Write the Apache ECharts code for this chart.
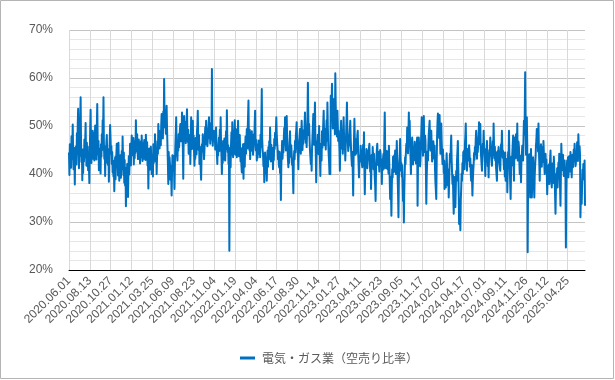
<!DOCTYPE html>
<html>
<head>
<meta charset="utf-8">
<script src="https://cdn.jsdelivr.net/npm/echarts@6/dist/echarts.min.js"></script>
<style>
html,body{margin:0;padding:0;background:#fff;}
#c{width:615px;height:380px;}
</style>
</head>
<body>
<div id="c"></div>
<script>
var seriesName = '電気・ガス業（空売り比率）';
var tickLabels = ['2020.06.01','2020.08.13','2020.10.27','2021.01.12','2021.03.25','2021.06.09','2021.08.23','2021.11.04','2022.01.19','2022.04.04','2022.06.17','2022.08.30','2022.11.14','2023.01.27','2023.04.11','2023.06.23','2023.09.05','2023.11.17','2024.02.02','2024.04.17','2024.07.01','2024.09.11','2024.11.26','2025.02.12','2025.04.25'];
var yTicks = [20, 30, 40, 50, 60, 70];

var ratio2020a = [
44.5,39.8,46.2,42.1,45.0,41.3,47.8,43.2,46.0,50.3,44.1,41.0,45.5,42.8,37.8,44.6,43.1,45.8,42.0,48.5,44.2,50.1,53.6,45.3,41.2,47.9,43.8,51.5,56.0,46.4,42.5,44.8,38.7,45.1,40.2,44.9,42.6,47.2,43.5,46.8,50.6,44.3,41.7,46.5,42.9,45.7,40.8,44.2,41.5,38.1,
44.0,49.5,53.4,46.1,42.3,47.7,44.5,49.0,43.2,48.6,45.9,42.8,47.5,50.1,44.7,46.3,43.0,49.8,54.6,47.2,44.1,46.9,40.8,45.3,42.7,44.4,40.1,46.2,43.6,48.3,45.0,51.2,47.8,56.0,46.5,43.2,45.8,39.6,44.1,42.3,46.7,48.1,43.5,45.2,41.9,44.6,38.4,43.8,46.9,50.2,
47.5,44.2,45.8,42.1,44.6,40.3,42.8,39.5,41.7,36.4,40.2,43.5,38.9,42.6,44.1,46.3,41.8,43.2,39.7,46.5,42.3,38.6,41.4,40.7,43.9,39.2,42.5,44.8,41.0,47.8,43.6,39.8,44.5,38.2,42.9,37.6,41.3,33.3,39.5,36.8,42.1,38.4,35.2,40.6,43.7,39.9,42.4,46.3,44.0,41.8,
45.3,48.0,43.9,46.2,44.1,47.5,42.0,45.8,43.3,46.9,44.4,51.2,47.0,44.8,48.3,45.6,43.1,45.0,47.2,43.8,46.1,42.2,44.9,46.8,43.5,48.0,45.1,42.7,46.4,45.6,43.2,47.1,44.3,46.0,42.9,48.2,45.4,43.0,46.6,41.8,44.2,37.0,42.5,45.3,40.9,44.2,42.0,45.7,43.4,40.0,
41.6,44.0,39.5,46.2,42.3,44.8,43.1,48.3,45.0,42.6,44.5,40.0,43.7,46.8,44.2,50.4,47.1,49.0,45.3,45.6,48.2,46.0,50.3,52.5,48.6,51.2,47.4,53.0,50.1,59.8,51.6,49.7,52.8,48.4,51.9,54.2,49.5,45.8,42.4,37.9,44.6,40.2,43.5,42.1,38.8,41.7,39.4,35.5,40.3,43.9
];
var ratio2021 = [
41.2,43.8,44.2,40.5,36.9,42.7,45.9,48.4,51.8,46.2,44.0,42.8,46.5,44.9,48.3,45.6,47.9,49.3,50.4,46.8,48.7,47.2,52.8,48.1,45.5,39.0,47.3,52.1,49.6,47.0,50.8,46.4,48.7,51.0,53.5,48.9,46.7,49.2,44.2,47.6,45.3,48.1,42.1,46.0,51.8,47.7,45.2,49.4,51.1,46.3,
48.0,44.5,41.7,45.6,43.2,47.5,46.9,44.1,48.8,50.2,53.2,47.4,45.0,48.1,42.1,45.7,43.6,40.9,38.8,43.5,46.2,44.7,48.3,45.8,47.0,43.1,44.9,47.6,49.8,46.2,51.1,47.3,49.5,45.8,46.9,48.7,50.4,51.8,47.5,49.1,46.3,48.9,50.6,47.2,61.9,49.0,45.9,48.4,47.7,49.0,
46.8,48.2,45.1,47.3,49.7,46.0,44.3,42.1,45.8,43.9,46.4,47.6,44.8,49.2,47.0,51.8,46.5,43.7,40.0,44.6,42.3,46.9,45.6,43.0,47.4,44.1,42.8,46.3,48.9,45.2,53.3,47.8,44.6,46.0,42.1,44.9,24.0,42.7,45.5,41.4,46.2,48.7,44.0,50.8,46.6,43.5,47.1,44.2,48.3,51.2,
47.2,44.0,49.3,45.1,43.5,46.8,48.2,51.1,46.0,43.7,45.9,48.1,44.9,42.6,45.4,41.8,40.3,44.7,42.2,46.2,39.0,43.8,46.3,41.5,45.6,47.8,44.2,46.9,49.4,45.3,48.6,52.0,55.3,47.1,45.0,49.2,43.1,46.7,44.8,47.5,48.9,45.5,46.8,44.0,45.2,48.3,47.0,50.6,53.2,46.1,
44.9,47.1,42.8,45.6,43.4,46.2,44.2,47.0,45.1,46.5,43.5,48.2,45.7,50.9,57.7,47.3,45.0,44.2,41.6,43.9,38.3,41.8,44.5,42.4,40.1,43.2,38.6,42.7,44.9,41.5,45.6,43.0,46.8,44.3,49.7,45.9,42.6,46.1,44.2,43.0,45.4,41.0,44.7,42.9,47.3,45.2,48.6,46.0,49.1,51.8
];
var ratio2022 = [
48.4,46.5,45.2,43.1,44.8,42.0,41.4,44.6,40.2,42.9,34.6,41.5,44.1,46.9,43.2,45.8,44.5,47.3,49.6,46.2,51.8,47.5,44.9,49.0,52.1,47.8,45.6,43.1,41.4,44.7,42.3,46.5,48.9,45.1,43.6,46.0,44.2,41.9,43.3,39.8,36.0,42.4,44.8,43.1,46.9,44.5,47.9,49.2,50.8,47.0,
45.3,43.8,41.0,44.6,46.9,48.1,49.4,46.7,44.2,47.5,51.1,48.3,45.0,47.9,46.3,49.1,47.4,50.2,52.8,48.0,46.5,49.7,45.6,48.8,51.5,59.0,52.3,48.1,50.4,47.2,45.0,43.6,42.1,44.8,40.7,45.3,47.6,49.9,52.5,48.4,46.1,50.3,54.9,47.8,44.2,38.3,43.9,46.8,45.6,48.2,
46.5,44.1,50.0,45.8,43.2,39.6,44.7,46.3,42.8,48.9,45.5,47.9,50.6,53.2,48.4,46.0,47.3,49.4,45.1,48.6,51.2,47.0,54.9,49.8,46.4,44.2,42.5,40.0,45.3,40.0,56.3,51.8,54.0,58.8,53.1,49.5,52.7,50.0,55.6,52.2,48.3,61.0,54.4,49.7,51.5,47.8,53.2,50.1,46.9,49.0,
47.3,45.0,40.7,46.2,48.5,51.1,47.6,45.3,49.0,44.2,47.1,51.8,48.0,45.2,46.9,42.8,45.7,48.3,51.2,54.9,49.6,47.2,44.8,45.6,48.1,46.0,49.3,51.1,47.5,44.9,43.2,41.7,44.6,40.3,35.5,42.9,47.4,51.5,46.8,44.0,45.9,44.2,47.3,45.8,48.1,49.0,44.6,42.1,39.3,43.7,
44.1,42.6,45.9,43.3,44.7,42.0,41.4,44.5,46.1,43.0,48.7,41.5,35.8,40.9,43.7,42.4,45.2,43.6,41.2,42.8,44.9,43.1,45.4,46.3,42.7,40.5,43.8,36.9,41.6,44.0,42.3,45.6,43.4,41.0,44.2,41.4,39.2,37.5,34.4,40.8,43.5,45.1,46.3,43.0,41.9,44.6,42.1,40.5,43.7,45.0
];
var ratio2023 = [
44.2,41.6,43.0,37.9,42.5,40.8,43.4,44.2,41.1,47.5,52.8,45.6,43.0,41.2,43.5,44.8,42.2,41.0,43.6,40.1,45.9,42.0,38.7,34.8,39.5,36.2,31.3,37.4,41.0,39.3,43.6,42.8,40.4,43.9,41.7,44.9,42.5,40.0,43.1,46.9,42.6,39.4,36.1,31.0,38.8,42.4,44.0,47.3,43.5,40.7,
42.3,39.5,41.8,37.6,34.4,38.0,29.9,36.4,40.2,43.5,42.1,44.7,46.3,45.0,49.7,46.1,44.3,48.5,52.8,47.6,51.1,46.2,43.5,40.0,44.8,46.1,47.6,44.3,42.0,45.4,42.8,44.9,46.7,43.5,45.6,42.2,44.8,46.3,47.6,33.4,41.5,44.9,47.6,45.0,43.2,41.6,42.8,46.0,48.7,51.8,
45.2,47.6,43.8,49.4,52.1,47.3,44.6,48.0,46.9,41.2,33.8,39.6,42.5,44.7,42.8,46.1,48.4,49.7,51.1,46.3,44.9,47.2,49.0,45.8,42.6,44.4,43.5,46.8,45.6,43.2,45.9,41.0,38.3,36.7,34.8,42.4,47.9,50.8,52.6,48.3,50.9,47.5,52.3,48.0,44.2,47.6,50.5,46.8,44.5,42.1,
45.1,43.0,40.2,42.8,36.9,40.5,38.7,37.2,42.0,44.3,41.4,39.0,37.6,40.9,35.1,38.4,41.7,44.2,42.5,45.6,48.0,43.1,40.4,37.9,39.8,35.2,31.7,36.5,39.4,35.8,33.1,37.0,40.6,38.6,42.9,44.8,46.9,41.3,36.2,29.6,33.5,31.2,28.3,34.6,36.9,40.1,38.6,42.3,40.0,44.6,
42.7,44.9,41.0,46.3,47.8,50.5,45.4,43.1,40.7,43.9,45.2,42.8,44.1,46.0,44.6,41.5,43.3,40.2,38.6,41.9,39.4,35.5,38.7,40.6,42.1,44.4,43.0,45.6,44.1,47.2,49.0,45.7,43.2,46.5,44.6,47.1,48.4,50.8,46.2,48.0,50.4,45.3,43.6,42.1,40.7,44.5,46.3,45.0,49.0,46.1
];
var ratio2024 = [
44.0,42.3,39.6,43.5,45.2,44.1,46.9,43.8,41.6,42.9,39.3,43.4,45.0,44.2,47.6,45.1,43.9,42.6,41.7,44.5,46.8,44.0,50.5,46.1,43.3,45.7,42.8,44.6,41.2,40.0,38.6,42.1,44.8,43.5,45.6,44.0,42.3,41.5,40.7,43.9,46.2,44.7,49.0,45.3,43.4,44.8,42.8,41.0,44.2,39.5,
44.5,38.6,42.0,40.3,43.1,36.2,40.7,44.6,42.2,49.0,44.3,41.1,38.0,34.8,40.5,43.6,41.8,44.2,46.1,48.0,43.4,38.6,44.9,47.6,45.0,43.3,48.3,46.2,44.5,50.5,42.8,44.9,46.7,45.6,42.4,40.0,43.8,41.2,38.3,42.6,44.0,45.9,43.7,42.8,47.5,51.1,48.2,52.6,61.2,50.3,
44.0,47.5,51.8,46.3,23.7,38.2,40.0,42.6,44.1,38.6,35.1,41.3,45.2,39.6,35.1,37.8,40.9,43.5,41.2,38.0,35.1,39.7,41.8,43.5,45.9,47.1,49.4,46.0,48.2,44.7,50.5,45.3,42.1,38.6,43.0,44.8,46.2,43.6,41.5,45.6,44.0,42.5,46.9,44.3,42.0,40.0,42.8,44.2,41.6,43.0
];
var ratio2025 = [
40.3,35.8,38.9,41.7,39.2,42.0,37.9,40.6,43.1,44.9,41.0,38.4,37.2,39.5,42.2,40.0,38.1,43.6,41.4,39.0,35.5,31.7,36.8,40.0,38.7,41.2,37.2,39.8,42.4,40.6,44.2,41.5,37.0,33.4,39.9,46.3,43.0,40.8,42.1,44.0,41.3,39.6,41.9,42.8,40.4,38.9,24.7,36.2,40.5,42.8,
41.8,43.5,39.3,41.0,43.7,42.1,40.5,44.6,42.3,41.2,39.3,42.8,44.0,41.4,43.3,45.1,42.7,46.3,43.8,41.6,42.1,44.5,43.2,46.6,44.9,42.7,48.3,45.6,43.4,45.8,44.0,31.0,35.2,38.4,33.8,37.6,40.9,39.5,42.1,40.7,38.8,42.8,33.4
];

var values = [].concat(ratio2020a, ratio2021, ratio2022, ratio2023, ratio2024, ratio2025);
var categories = values.map(function (v, i) { return String(i); });
var LABEL_STEP = 50;

var chart = echarts.init(document.getElementById('c'), null, {renderer: 'canvas'});
var txt = '#595959';
chart.setOption({
  animation: false,
  backgroundColor: '#ffffff',
  textStyle: {fontFamily: 'Liberation Sans, Arial, sans-serif'},
  graphic: [{
    type: 'rect', silent: true, z: -1,
    shape: {x: 0.5, y: 0.5, width: 613, height: 378},
    style: {fill: 'none', stroke: '#b4b4b4', lineWidth: 1}
  }],
  grid: {left: 69, right: 30, top: 30, bottom: 110, containLabel: false},
  legend: {
    data: [seriesName],
    left: 235, top: 347,
    icon: 'rect', itemWidth: 15, itemHeight: 3, itemGap: 10,
    textStyle: {color: txt, fontSize: 12, fontFamily: 'Noto Sans CJK JP, sans-serif', padding: [0, 0, 0, 2]}
  },
  xAxis: {
    type: 'category',
    data: categories,
    boundaryGap: false,
    axisLine: {show: true, lineStyle: {color: '#000000', width: 1}},
    axisTick: {show: false},
    axisLabel: {
      interval: LABEL_STEP - 1, rotate: 45, margin: 9,
      color: txt, fontSize: 12, fontFamily: 'Liberation Sans, Arial, sans-serif',
      formatter: function (v, i) { return i % LABEL_STEP === 0 ? (tickLabels[i / LABEL_STEP] || '') : ''; }
    },
    splitLine: {show: true, interval: LABEL_STEP - 1, lineStyle: {color: '#d9d9d9', width: 1}}
  },
  yAxis: {
    type: 'value',
    min: yTicks[0], max: yTicks[yTicks.length - 1], interval: 10,
    axisLine: {show: false},
    axisTick: {show: false},
    axisLabel: {color: txt, fontSize: 12, margin: 16, formatter: '{value}%', fontFamily: 'Liberation Sans, Arial, sans-serif'},
    splitLine: {show: true, lineStyle: {color: '#c4c4c4', width: 1}},
    minorTick: {show: false, splitNumber: 5},
    minorSplitLine: {show: true, lineStyle: {color: '#e6e6e6', width: 1}}
  },
  series: [{
    name: seriesName,
    type: 'line',
    data: values,
    showSymbol: false,
    symbol: 'none',
    lineStyle: {color: '#0070C0', width: 2, join: 'round'},
    itemStyle: {color: '#0070C0'}
  }]
});
</script>
</body>
</html>
